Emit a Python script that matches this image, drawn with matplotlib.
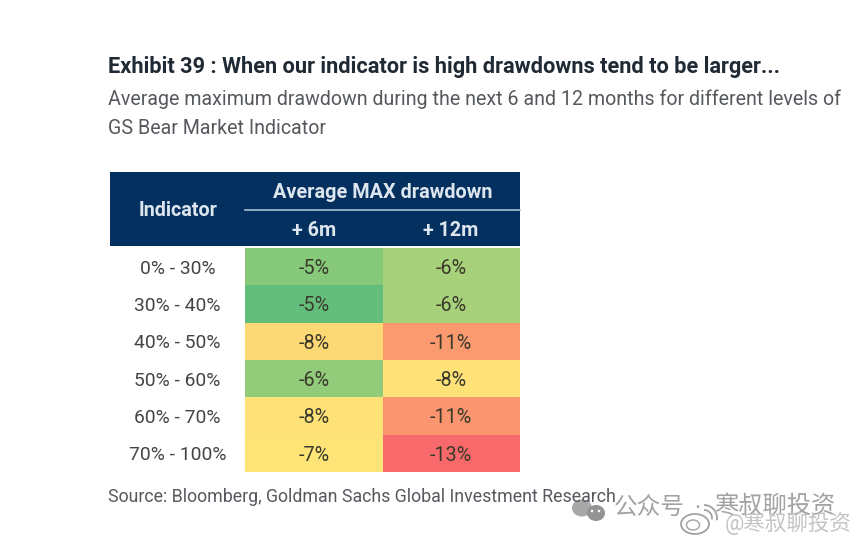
#!/usr/bin/env python
# coding: utf-8

import matplotlib
matplotlib.use('Agg')
import matplotlib.pyplot as plt
from matplotlib.colors import LinearSegmentedColormap
from matplotlib.patches import Arc, Circle, Ellipse, Rectangle
import numpy as np

title = 'Exhibit 39 : When our indicator is high drawdowns tend to be larger...'
subtitle = ['Average maximum drawdown during the next 6 and 12 months for different levels of',
            'GS Bear Market Indicator']
source = 'Source: Bloomberg, Goldman Sachs Global Investment Research'

indicator = ['0% - 30%', '30% - 40%', '40% - 50%', '50% - 60%', '60% - 70%', '70% - 100%']
columns = ['+ 6m', '+ 12m']
# unrounded estimates, the shading in the picture shows cells differ within a label
plus_6m = [-5.2, -4.6, -8.3, -5.5, -7.9, -7.4]
plus_12m = [-6.1, -6.1, -10.9, -7.9, -11.1, -13.2]
labels_6m = ['-5%', '-5%', '-8%', '-6%', '-8%', '-7%']
labels_12m = ['-6%', '-6%', '-11%', '-8%', '-11%', '-13%']

W, H = 865, 541
fig = plt.figure(figsize=(W / 100, H / 100), dpi=100)
plt.rcParams['font.family'] = ['Roboto', 'Noto Sans CJK SC', 'DejaVu Sans']

# overlay in pixel units for header and text
bg = fig.add_axes([0, 0, 1, 1])
bg.set_xlim(0, W)
bg.set_ylim(H, 0)
bg.axis('off')

navy = '#04305F'
head = '#DDE5EE'
bg.add_patch(Rectangle((109.5, 172), 410.5, 74, color=navy, lw=0))
bg.plot([245, 520], [209.5, 209.5], color='#A9BFD2', lw=1.2)

bg.text(108, 67, title, fontsize=15.65, fontweight='bold', color='#1F2A35', va='center')
bg.text(108, 99, subtitle[0], fontsize=14.1, color='#55595E', va='center')
bg.text(108, 128, subtitle[1], fontsize=14.1, color='#55595E', va='center')
bg.text(178, 210, 'Indicator', fontsize=14.2, fontweight='bold', color=head, ha='center', va='center')
bg.text(383, 192, 'Average MAX drawdown', fontsize=14.3, fontweight='bold', color=head, ha='center', va='center')
bg.text(314, 231, columns[0], fontsize=14.2, fontweight='bold', color=head, ha='center', va='center')
bg.text(451, 231, columns[1], fontsize=14.2, fontweight='bold', color=head, ha='center', va='center')
bg.text(108, 497, source, fontsize=12.75, color='#55595E', va='center')

# heat cells
values = np.array([plus_6m, plus_12m]).T
cell_labels = np.array([labels_6m, labels_12m]).T
scale = LinearSegmentedColormap.from_list(
    'excel', [(0, '#F8696B'), (0.27, '#FB9A6F'), (0.57, '#FDD975'), (0.62, '#FEE277'),
              (0.69, '#FEE477'), (0.82, '#A9D27A'), (0.93, '#88CA7B'), (1, '#63BE7B')])
ax = fig.add_axes([245 / W, 1 - 472 / H, 275 / W, 224 / H])
ax.pcolormesh(values, cmap=scale, vmin=-13.2, vmax=-4.6)
ax.set_xlim(0, 2)
ax.set_ylim(len(indicator), 0)
ax.axis('off')
for i, row in enumerate(cell_labels):
    for j, lab in enumerate(row):
        ax.text(j + 0.5, i + 0.55, lab, ha='center', va='center',
                fontsize=14.2, color='#3A3A2C')
    ax.text(-0.49, i + 0.55, indicator[i], ha='center', va='center', fontsize=13.9,
            color='#444444', clip_on=False)

# watermark
grey = '#A2A2A2'
bg.add_patch(Ellipse((582, 508), 20, 17, color='#A8A8A8', lw=0))
bg.add_patch(Ellipse((596, 513), 18, 16, color='#939393', lw=0))
for x in (592, 599):
    bg.add_patch(Circle((x, 511), 1.3, color='white', lw=0))
bg.text(614, 508, '公众号', fontsize=17, color=grey, va='center')
bg.text(694, 509, '·', fontsize=17, color=grey, va='center')
bg.text(714, 506, '寒叔聊投资', fontsize=17.5, color=grey, va='center')
bg.add_patch(Ellipse((695, 524), 28, 20, fill=False, ec=grey, lw=1.3))
bg.add_patch(Ellipse((693, 525), 13, 10, fill=False, ec=grey, lw=1.0))
bg.add_patch(Arc((704, 518), 16, 16, theta1=-90, theta2=10, ec=grey, lw=1.3))
bg.add_patch(Arc((704, 518), 26, 26, theta1=-90, theta2=10, ec=grey, lw=1.3))
bg.text(725, 523, '@寒叔聊投资', fontsize=15.5, color='#C4C4C4', va='center')

fig.savefig('out.png', dpi=100)
